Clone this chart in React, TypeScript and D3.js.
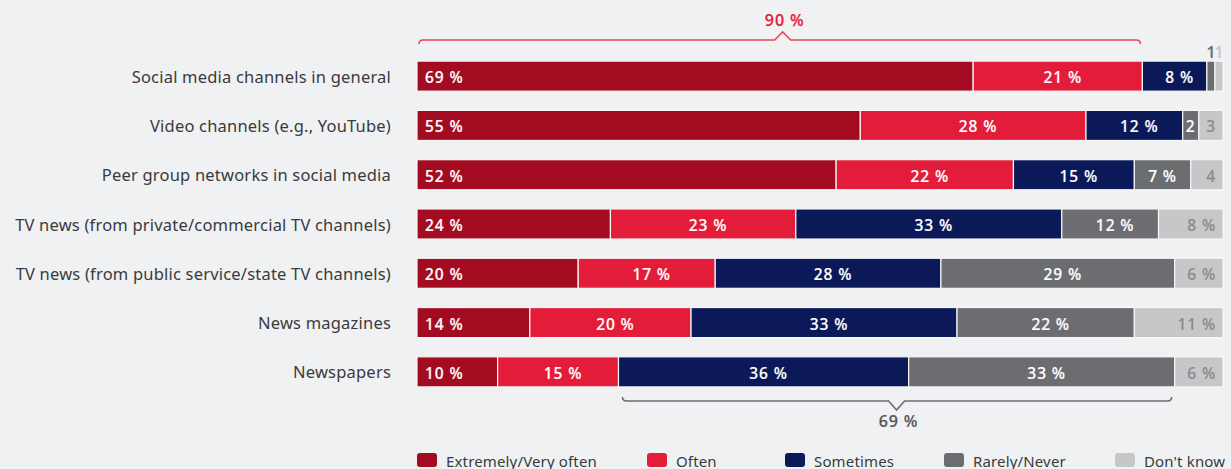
import React from "react";
import * as d3 from "d3";

const categories = [
  "Social media channels in general",
  "Video channels (e.g., YouTube)",
  "Peer group networks in social media",
  "TV news (from private/commercial TV channels)",
  "TV news (from public service/state TV channels)",
  "News magazines",
  "Newspapers",
];
const seriesNames = ["Extremely/Very often", "Often", "Sometimes", "Rarely/Never", "Don't know"];
const extremely = [69, 55, 52, 24, 20, 14, 10];
const often = [21, 28, 22, 23, 17, 20, 15];
const sometimes = [8, 12, 15, 33, 28, 33, 36];
const rarely = [1, 2, 7, 12, 29, 22, 33];
const dontKnow = [1, 3, 4, 8, 6, 11, 6];
const topBraceLabel = "90 %";
const bottomBraceLabel = "69 %";

const colors = ["#a30c20", "#e31c39", "#0b1958", "#6c6d71", "#c6c7c9"];
const textColors = ["#ffffff", "#ffffff", "#ffffff", "#ffffff", "#8b8c8e"];
const BG = "#f0f1f3";
const FONT = "'Noto Sans', 'Open Sans', sans-serif";

export default function App() {
  const W = 1231, H = 469;
  const series = [extremely, often, sometimes, rarely, dontKnow];
  const x = d3.scaleLinear().domain([0, 100]).range([417, 1223]);
  const y = d3.scaleBand().domain(categories).range([51.5, 396.5]).paddingInner(0.39).paddingOuter(0.195);
  const bh = y.bandwidth();

  const rows = categories.map((c, i) => {
    let acc = 0;
    const segs = series.map((s, k) => {
      const v = s[i];
      const seg = { k, v, x0: acc, x1: acc + v };
      acc += v;
      return seg;
    });
    return { c, i, segs };
  });

  const topEnd = extremely[0] + often[0];
  const tb0 = x(0) + 2, tb1 = x(topEnd) - 2, tbm = x(topEnd / 2) + 3;
  const tby = 40;
  const topPath = `M${tb0},${tby + 4} Q${tb0},${tby} ${tb0 + 4},${tby} L${tbm - 8},${tby} L${tbm},${tby - 8} L${tbm + 8},${tby} L${tb1 - 4},${tby} Q${tb1},${tby} ${tb1},${tby + 4}`;

  const li = categories.length - 1;
  const bStart = extremely[li] + often[li];
  const bEnd = bStart + sometimes[li] + rarely[li];
  const bb0 = x(bStart) + 4, bb1 = x(bEnd) - 3, bbm = x((bStart + bEnd) / 2);
  const bby = 401;
  const botPath = `M${bb0},${bby - 4} Q${bb0},${bby} ${bb0 + 4},${bby} L${bbm - 8},${bby} L${bbm},${bby + 9} L${bbm + 8},${bby} L${bb1 - 4},${bby} Q${bb1},${bby} ${bb1},${bby - 4}`;

  const legendX = [417, 647, 785, 944, 1115];

  return (
    <svg width={W} height={H} style={{ display: "block", position: "absolute", left: 0, top: 0, background: BG }} fontFamily={FONT}>
      <rect x={0} y={0} width={W} height={H} fill={BG} />
      {rows.map((r) => {
        const yy = y(r.c)!;
        const cy = yy + bh / 2;
        return (
          <g key={r.c}>
            <text x={391} y={cy} textAnchor="end" dominantBaseline="central" fontSize={16.5} letterSpacing={0.2} fill="#3a3a3c">
              {r.c}
            </text>
            {r.segs.map((s) => (
              <rect key={s.k} x={x(s.x0)} y={yy} width={x(s.x1) - x(s.x0)} height={bh} fill={colors[s.k]} stroke="#f7f7f8" strokeWidth={1.2} />
            ))}
            {r.segs.map((s) => {
              const wpx = x(s.x1) - x(s.x0);
              const label = s.v >= 5 ? `${s.v} %` : `${s.v}`;
              if (wpx < 14) {
                return (
                  <text key={"t" + s.k} x={(x(s.x0) + x(s.x1)) / 2} y={yy - 9} textAnchor="middle" dominantBaseline="central" fontSize={15.5} fontWeight={600} fill={colors[s.k]}>
                    {label}
                  </text>
                );
              }
              let tx = (x(s.x0) + x(s.x1)) / 2;
              let anchor: "start" | "middle" | "end" = "middle";
              if (s.k === 0) { tx = x(s.x0) + 8; anchor = "start"; }
              else if (s.k === 4) { tx = x(s.x1) - 7; anchor = "end"; }
              else if (wpx > 60) tx += 5;
              return (
                <text key={"t" + s.k} x={tx} y={cy + 1} textAnchor={anchor} dominantBaseline="central" fontSize={15.5} fontWeight={500} letterSpacing={0.9} fill={textColors[s.k]} stroke={textColors[s.k]} strokeWidth={0.2}>
                  {label}
                </text>
              );
            })}
          </g>
        );
      })}
      <path d={topPath} fill="none" stroke="#e8475b" strokeWidth={1.6} />
      <text x={tbm + 2} y={20} textAnchor="middle" dominantBaseline="central" fontSize={16} fontWeight={500} letterSpacing={0.9} fill="#e31c39" stroke="#e31c39" strokeWidth={0.25}>
        {topBraceLabel}
      </text>
      <path d={botPath} fill="none" stroke="#6c6d71" strokeWidth={1.6} />
      <text x={bbm + 2} y={421} textAnchor="middle" dominantBaseline="central" fontSize={16} fontWeight={500} letterSpacing={0.9} fill="#555558" stroke="#555558" strokeWidth={0.2}>
        {bottomBraceLabel}
      </text>
      {seriesNames.map((n, k) => (
        <g key={n}>
          <rect x={legendX[k]} y={453} width={20} height={14} rx={3} fill={colors[k]} />
          <text x={legendX[k] + 29} y={460.5} dominantBaseline="central" fontSize={15} letterSpacing={0.15} fill="#3a3a3c">
            {n}
          </text>
        </g>
      ))}
    </svg>
  );
}
